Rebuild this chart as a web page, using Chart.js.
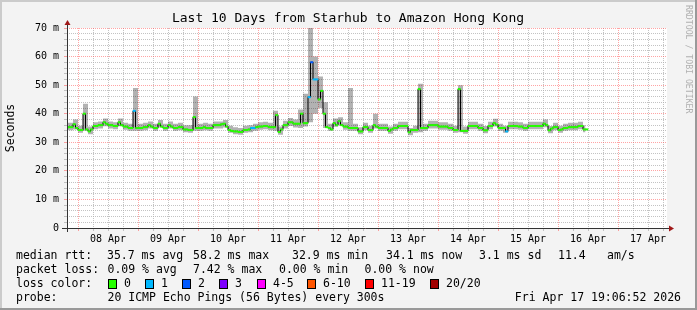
<!DOCTYPE html>
<html>
<head>
<meta charset="utf-8">
<script src="https://cdn.jsdelivr.net/npm/chart.js@4.4.1/dist/chart.umd.min.js"></script>
<style>
  html, body { margin: 0; padding: 0; background: #f3f3f3; }
  canvas { display: block; }
</style>
</head>
<body>
<canvas id="myChart" width="697" height="310"></canvas>
<script>
// hours since 08 Apr 00:00; median is hourly, smoke every 2 hours
var medianStart = -6;
var medianStep = 1;
var smokeStart = -6;
var smokeStep = 2;

// median rtt in ms, one value per hour
var rtt = [35, 35, 35.3, 35.3, 36.3, 35, 34.3, 34.3, 40, 34.5, 33.8, 34.5, 35.7, 35.7, 36, 36, 37, 36.5, 36, 36,
  35.7, 35.7, 37, 36, 35.5, 35.5, 35, 35, 41, 35, 35, 35, 35.3, 35.3, 36, 35.5, 35, 35, 36.5, 35.5,
  35, 35, 36, 35.5, 35, 35, 35.3, 35.3, 34.5, 34.5, 34.3, 34.3, 38.8, 35, 35, 35, 35.3, 35, 35, 35,
  36, 36, 36, 36.3, 36.5, 35.5, 34.3, 34, 33.8, 33.8, 33.6, 33.6, 34.3, 34.3, 34.5, 35, 35, 35.3, 35.5, 35.5,
  35.7, 35.7, 35.3, 35.3, 35.3, 39.5, 33.6, 34.5, 36, 36, 37, 37, 36.5, 36.5, 36.5, 40, 36.7, 36.7, 45.8, 58,
  52, 52, 45, 48, 40, 35.3, 35, 34.5, 36.7, 36, 37.4, 36, 35.5, 35.5, 35, 35, 35, 35, 33.8, 33.8,
  35.3, 35.3, 34.3, 34.3, 36, 35.5, 35, 35, 35, 35, 34, 34.5, 35, 35, 35.7, 35.7, 35.7, 35.7, 33.5, 34.3,
  34.3, 34.3, 48.6, 35, 35, 35, 36, 36, 36, 36, 35.5, 35.5, 35.5, 35.5, 35, 35, 34.3, 34.3, 48.6, 34,
  34, 34, 35.7, 35.7, 35.7, 35.7, 35, 35, 34.2, 34.2, 35.7, 35.7, 36.7, 36.2, 35, 35, 35, 33.8, 35.7, 35.7,
  35.7, 35.7, 35.5, 35.5, 35, 35, 35.7, 35.7, 35.7, 35.7, 35.7, 35.7, 36.5, 36, 34.2, 34.8, 35.3, 35.3, 34.3, 34.5,
  35, 35, 35.3, 35.3, 35.3, 35.3, 35.7, 35.7, 34.5, 34.5];

// hourly samples that lost pings: [sample index, lost of 20]
var lossSamples = [[28, 1], [75, 1], [76, 1], [98, 1], [99, 2], [100, 1], [101, 1], [177, 1]];

// smoke: highest and lowest ping, one value per 2 hours
var smokeHi = [36.5, 36.8, 38, 35.8, 43.5, 35.5, 37, 37.3, 38.3, 37.3, 37, 38.3, 36.8, 36.5, 49, 36.5, 36.8, 37.3, 36.5, 37.8,
  36.5, 37.3, 36.5, 36.8, 36, 36, 46, 36.5, 36.8, 36.5, 37.3, 37.3, 37.8, 35.8, 35.3, 35, 35.8, 36, 36.5, 37,
  37.2, 36.8, 41, 35.5, 37.5, 38.5, 38, 41.5, 47, 70, 60, 53, 44, 36.5, 38.3, 38.8, 37, 49, 36.5, 35.3,
  36.8, 35.8, 40, 36.5, 36.5, 35.5, 36.5, 37.2, 37.2, 35, 35.8, 50.5, 36.5, 37.5, 37.5, 37, 37, 36.5, 35.8, 50,
  35.5, 37.2, 37.2, 36.5, 35.7, 37.2, 38.2, 36.5, 35.8, 37.2, 37.2, 37, 36.5, 37.2, 37.2, 37.2, 38, 35.7, 36.8, 35.8,
  36.5, 36.8, 36.8, 37.2, 36];
var smokeLo = [34, 34.2, 34.5, 33.3, 34, 32.8, 34.6, 34.8, 35.6, 34.8, 34.6, 35.6, 34.4, 34, 34, 34, 34.2, 34.8, 34, 35.2,
  34, 34.8, 34, 34.2, 33.5, 33.3, 34, 34, 34.2, 34, 34.8, 34.8, 35.2, 33.3, 32.8, 32.6, 33.3, 33.5, 34, 34.4,
  34.6, 34.2, 34, 32.6, 34.8, 35.7, 35.2, 35, 35.5, 37, 40, 42, 35, 34, 35.4, 36, 34.4, 34, 34, 32.8,
  34.2, 33.3, 34.8, 34, 34, 33, 34, 34.6, 34.6, 32.5, 33.3, 33.5, 34, 34.8, 34.8, 34.4, 34.4, 34, 33.3, 33.5,
  33, 34.6, 34.6, 34, 33.2, 34.6, 35.5, 34, 33.3, 34.6, 34.6, 34.4, 34, 34.6, 34.6, 34.6, 35.3, 33.2, 34.2, 33.3,
  34, 34.2, 34.2, 34.6, 33.5];

var dayLabels = ['08 Apr', '09 Apr', '10 Apr', '11 Apr', '12 Apr', '13 Apr', '14 Apr', '15 Apr', '16 Apr', '17 Apr'];
var yLabels = ['0', '10 m', '20 m', '30 m', '40 m', '50 m', '60 m', '70 m'];

var lossLabels = ['0', '1', '2', '3', '4-5', '6-10', '11-19', '20/20'];
var lossColors = ['#26ff00', '#00b8ff', '#0059ff', '#7e00ff', '#ff00ff', '#ff5500', '#ff0000', '#a10000'];

var rttStats = ['35.7 ms avg', '58.2 ms max', '32.9 ms min', '34.1 ms now', '3.1 ms sd', '11.4', 'am/s'];
var lossStats = ['0.09 % avg', '7.42 % max', '0.00 % min', '0.00 % now'];

var mono = '"DejaVu Sans Mono", monospace';
var redGrid = 'rgba(255,90,90,0.55)';
var grayGrid = 'rgba(175,175,175,0.75)';

function lossColor(n) {
  if (n <= 3) return lossColors[n];
  if (n <= 5) return lossColors[4];
  if (n <= 10) return lossColors[5];
  if (n <= 19) return lossColors[6];
  return lossColors[7];
}

var lost = rtt.map(function () { return 0; });
lossSamples.forEach(function (p) { lost[p[0]] = p[1]; });

function pts(arr, start, step) {
  return arr.map(function (v, i) { return { x: start + (i + 0.5) * step, y: v }; });
}

var xTicks = [];
for (var h = 0; h <= 234; h += 6) xTicks.push(h);
var yTicks = [];
for (var m = 0; m <= 70; m += 2) yTicks.push(m);

var frame = {
  id: 'frame',
  beforeDraw: function (chart) {
    var c = chart.ctx, a = chart.chartArea;
    c.save();
    c.fillStyle = '#f3f3f3';
    c.fillRect(0, 0, 697, 310);
    c.fillStyle = '#cbcbcb';
    c.fillRect(0, 0, 697, 2);
    c.fillRect(0, 0, 2, 310);
    c.fillStyle = '#999999';
    c.fillRect(0, 308, 697, 2);
    c.fillRect(695, 0, 2, 310);
    c.fillStyle = '#ffffff';
    c.fillRect(a.left, a.top, a.right - a.left, a.bottom - a.top);
    c.restore();
  },
  afterDraw: function (chart) {
    var c = chart.ctx, a = chart.chartArea;
    c.save();
    // axes with arrows
    c.strokeStyle = '#333333';
    c.lineWidth = 1;
    c.beginPath();
    c.moveTo(a.left - 5, a.bottom + 0.5);
    c.lineTo(a.right + 2, a.bottom + 0.5);
    c.moveTo(a.left + 0.5, a.bottom + 4);
    c.lineTo(a.left + 0.5, a.top - 3);
    c.stroke();
    c.fillStyle = '#a01818';
    c.beginPath();
    c.moveTo(a.right + 2, a.bottom - 2.5);
    c.lineTo(a.right + 7, a.bottom + 0.5);
    c.lineTo(a.right + 2, a.bottom + 3.5);
    c.fill();
    c.beginPath();
    c.moveTo(a.left - 2.5, a.top - 3);
    c.lineTo(a.left + 0.5, a.top - 8);
    c.lineTo(a.left + 3.5, a.top - 3);
    c.fill();

    // title
    c.fillStyle = '#000';
    c.textBaseline = 'middle';
    c.textAlign = 'center';
    c.font = '13px ' + mono;
    c.fillText('Last 10 Days from Starhub to Amazon Hong Kong', 348, 19);

    // y title
    c.save();
    c.translate(11, 128);
    c.rotate(-Math.PI / 2);
    c.font = '11.5px ' + mono;
    c.fillText('Seconds', 0, 0);
    c.restore();

    // credit
    c.save();
    c.translate(688, 5);
    c.rotate(Math.PI / 2);
    c.textAlign = 'left';
    c.font = '8.2px ' + mono;
    c.fillStyle = '#b0b0b0';
    c.fillText('RRDTOOL / TOBI OETIKER', 0, 0);
    c.restore();

    // legend rows
    c.textAlign = 'left';
    c.font = '11.5px ' + mono;
    c.fillText('median rtt:', 16, 256);
    var rx = [107, 193, 292, 386, 479, 558, 607];
    rttStats.forEach(function (s, i) { c.fillText(s, rx[i], 256); });

    c.fillText('packet loss:', 16, 270);
    var px = [107.5, 193, 279, 364.5];
    lossStats.forEach(function (s, i) { c.fillText(s, px[i], 270); });

    c.fillText('loss color:', 16, 284);
    var bx = [108, 145, 182, 219, 257, 307, 365, 430];
    lossLabels.forEach(function (s, i) {
      c.fillStyle = lossColors[i];
      c.fillRect(bx[i], 279, 9, 10);
      c.strokeStyle = '#000';
      c.strokeRect(bx[i] + 0.5, 279.5, 8, 9);
      c.fillStyle = '#000';
      c.fillText(s, bx[i] + 16, 284);
    });

    c.fillText('probe:', 16, 298);
    c.fillText('20 ICMP Echo Pings (56 Bytes) every 300s', 107.5, 298);
    c.textAlign = 'right';
    c.fillText('Fri Apr 17 19:06:52 2026', 681, 298);
    c.restore();
  }
};

var ctx = document.getElementById('myChart').getContext('2d');
new Chart(ctx, {
  type: 'line',
  data: {
    datasets: [{
      label: 'smoke low',
      data: pts(smokeLo, smokeStart, smokeStep),
      stepped: 'middle',
      borderColor: 'transparent',
      borderWidth: 0,
      pointRadius: 0,
      fill: false,
      order: 4
    }, {
      label: 'smoke',
      data: pts(smokeHi, smokeStart, smokeStep),
      stepped: 'middle',
      borderColor: 'transparent',
      borderWidth: 0,
      pointRadius: 0,
      backgroundColor: 'rgba(0,0,0,0.3)',
      fill: '-1',
      order: 3
    }, {
      label: 'median',
      data: pts(rtt, medianStart, medianStep),
      stepped: 'middle',
      borderColor: '#000000',
      borderWidth: 1,
      pointRadius: 0,
      fill: false,
      order: 1
    }, {
      label: 'loss',
      data: pts(rtt, medianStart, medianStep),
      showLine: false,
      pointStyle: 'line',
      pointRadius: 1.5,
      pointBorderWidth: 2,
      pointBorderColor: lost.map(lossColor),
      pointBackgroundColor: lost.map(lossColor),
      order: 0
    }]
  },
  options: {
    responsive: false,
    animation: false,
    events: [],
    layout: { padding: { left: 0, top: 28, right: 30, bottom: 0 } },
    plugins: {
      legend: { display: false },
      tooltip: { enabled: false }
    },
    scales: {
      x: {
        type: 'linear',
        min: -4.4,
        max: 235.6,
        afterBuildTicks: function (s) { s.ticks = xTicks.map(function (v) { return { value: v }; }); },
        afterFit: function (s) { s.height = 82; },
        border: { display: false, dash: [1, 1] },
        grid: {
          color: function (c) { return c.tick && c.tick.value % 24 === 0 ? redGrid : grayGrid; },
          tickColor: function (c) { return c.tick && c.tick.value % 24 === 0 ? redGrid : grayGrid; },
          tickLength: 3,
          lineWidth: 1
        },
        ticks: {
          autoSkip: false,
          maxRotation: 0,
          padding: 2,
          color: '#000',
          font: { family: mono, size: 10 },
          callback: function (v) { return v % 24 === 12 ? dayLabels[(v - 12) / 24] : ''; }
        }
      },
      y: {
        min: 0,
        max: 70,
        afterBuildTicks: function (s) { s.ticks = yTicks.map(function (v) { return { value: v }; }); },
        afterFit: function (s) { s.width = 67; },
        border: { display: false, dash: [1, 1] },
        grid: {
          color: function (c) { return c.tick && c.tick.value % 10 === 0 ? redGrid : grayGrid; },
          tickColor: function (c) { return c.tick && c.tick.value % 10 === 0 ? redGrid : grayGrid; },
          tickLength: 3,
          lineWidth: 1
        },
        ticks: {
          autoSkip: false,
          padding: 5,
          color: '#000',
          font: { family: mono, size: 10 },
          callback: function (v) { return v % 10 === 0 ? yLabels[v / 10] : ''; }
        }
      }
    }
  },
  plugins: [frame]
});
</script>
</body>
</html>
